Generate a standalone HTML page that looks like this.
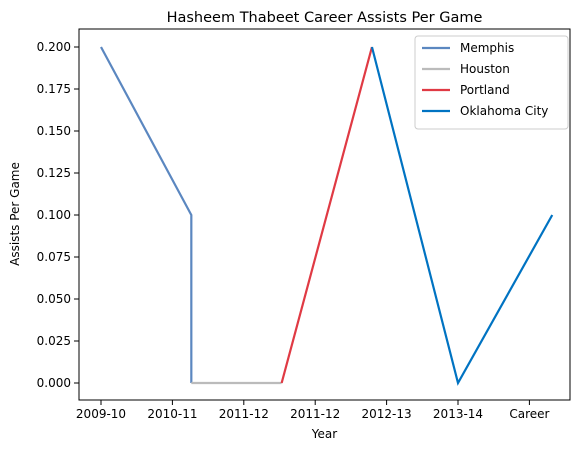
<!DOCTYPE html>
<html><head><meta charset="utf-8"><style>body{margin:0;background:#fff}text{font-family:"DejaVu Sans","Liberation Sans",sans-serif}</style></head>
<body>
<svg id="c" width="588" height="453" xmlns="http://www.w3.org/2000/svg"></svg>
<script>
const tickLabels=["2009-10","2010-11","2011-12","2011-12","2012-13","2013-14","Career"];
const yTicks=[0,0.025,0.05,0.075,0.1,0.125,0.15,0.175,0.2];
const seriesNames=["Memphis","Houston","Portland","Oklahoma City"];
const seriesColors=["#5b87c0","#bbbbbb","#e03a44","#0073c2"];
const memphisX=[0,1.265,1.265], memphisY=[0.2,0.1,0];
const houstonX=[1.265,2.53], houstonY=[0,0];
const portlandX=[2.53,3.795], portlandY=[0,0.2];
const okcX=[3.795,5.0,6.32], okcY=[0.2,0,0.1];
const L=79,R=570,T=29,B=400;
const sx=v=>101+v*71.4, sy=v=>383-v*1680;
const svg=document.getElementById('c');const NS="http://www.w3.org/2000/svg";
function mk(t,a,txt){const e=document.createElementNS(NS,t);for(const k in a)e.setAttribute(k,a[k]);if(txt!=null)e.textContent=txt;svg.appendChild(e);return e;}
let e=mk('rect',{x:L,y:T,width:R-L,height:B-T,fill:'none',stroke:'#000','stroke-width':1});

tickLabels.forEach((t,i)=>{const x=sx(i);mk('line',{x1:x,x2:x,y1:B,y2:B+5,stroke:'#000'});
 e=mk('text',{x:x,y:B+18,'font-size':12,'text-anchor':'middle'},t);});
yTicks.forEach(v=>{const y=sy(v);mk('line',{x1:L-5,x2:L,y1:y,y2:y,stroke:'#000'});
 e=mk('text',{x:L-8,y:y+4,'font-size':12,'text-anchor':'end'},v.toFixed(3));});
const all=[[memphisX,memphisY],[houstonX,houstonY],[portlandX,portlandY],[okcX,okcY]];
all.forEach((s,i)=>{const p=s[0].map((x,j)=>sx(x)+','+sy(s[1][j])).join(' ');
 e=mk('polyline',{points:p,fill:'none',stroke:seriesColors[i],'stroke-width':2.2});});
e=mk('text',{x:(L+R)/2,y:22,'font-size':14.5,'text-anchor':'middle'},'Hasheem Thabeet Career Assists Per Game');
e=mk('text',{x:(L+R)/2,y:438,'font-size':12,'text-anchor':'middle'},'Year');
e=mk('text',{x:0,y:0,'font-size':12,'text-anchor':'middle',transform:'translate(19,214) rotate(-90)'},'Assists Per Game');
e=mk('rect',{x:415,y:36,width:153,height:93,rx:3,fill:'#fff',stroke:'#ccc'});
seriesNames.forEach((n,i)=>{const y=48+i*21;mk('line',{x1:422,x2:450,y1:y,y2:y,stroke:seriesColors[i],'stroke-width':2.2});
 e=mk('text',{x:460,y:y+4,'font-size':12},n);});
</script>
</body></html>
